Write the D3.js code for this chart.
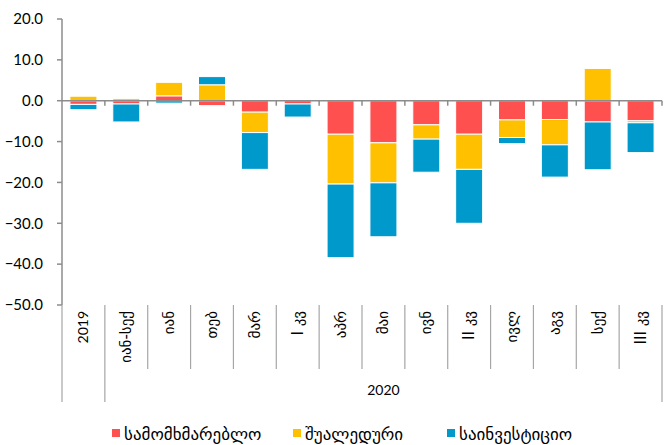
<!DOCTYPE html>
<html>
<head>
<meta charset="utf-8">
<script src="https://cdn.jsdelivr.net/npm/d3@7"></script>
<style>
  body { margin: 0; background: #fff; }
  svg { display: block; }
  .ytick { font-family: Lato, "DejaVu Sans", sans-serif; font-size: 15px; fill: #000; }
  .cat { font-family: "DejaVu Sans", sans-serif; font-size: 15px; fill: #000; }
  .year { font-family: Lato, "DejaVu Sans", sans-serif; font-size: 14px; fill: #000; }
  .legend { font-family: "DejaVu Sans", sans-serif; font-size: 17px; fill: #000; }
</style>
</head>
<body>
<div id="chart"></div>
<script>
// categories (first is 2019, the rest belong to 2020)
var categories = ["2019", "იან-სექ", "იან", "თებ", "მარ", "I კვ", "აპრ", "მაი", "ივნ", "II კვ", "ივლ", "აგვ", "სექ", "III კვ"];
var groupYears = ["2019", "2020"];

// series values
var seriesNames = ["სამომხმარებლო", "შუალედური", "საინვესტიციო"];
var consumer     = [-0.9, -0.8, 1.2, -1.2, -2.8, -0.8, -8.2, -10.3, -5.9, -8.2, -4.7, -4.6, -5.2, -4.9];
var intermediate = [1.1, 0.5, 3.3, 3.9, -5.0, 0.0, -12.2, -9.8, -3.5, -8.6, -4.3, -6.2, 7.9, -0.5];
var investment   = [-1.3, -4.4, -0.6, 2.0, -9.0, -3.2, -18.0, -13.2, -8.1, -13.2, -1.5, -7.9, -11.7, -7.3];

var yTicks = [20, 10, 0, -10, -20, -30, -40, -50];
var colors = ["#FF5050", "#FFC000", "#0099CC"];

var svgWidth = 664, svgHeight = 445;
var margin = { top: 19, right: 2, bottom: 140, left: 62 };
var width = svgWidth - margin.left - margin.right;
var height = svgHeight - margin.top - margin.bottom;

var svg = d3.select("#chart").append("svg")
  .attr("width", svgWidth)
  .attr("height", svgHeight);

var g = svg.append("g")
  .attr("transform", `translate(${margin.left}, ${margin.top})`);

// build table for the stack
var table = categories.map(function (c, i) {
  return { cat: c, s0: consumer[i], s1: intermediate[i], s2: investment[i] };
});
var keys = ["s0", "s1", "s2"];
var stacked = d3.stack().keys(keys).offset(d3.stackOffsetDiverging)(table);

var x = d3.scaleBand()
  .domain(categories)
  .range([0, width])
  .paddingInner(0.37)
  .paddingOuter(0.185);

var y = d3.scaleLinear()
  .domain([-50, 20])
  .range([height, 0]);

var step = x.step();
var axisColor = "#8c8c8c";

// y axis
g.append("line")
  .attr("x1", 0).attr("x2", 0)
  .attr("y1", y(20)).attr("y2", y(-50))
  .attr("stroke", axisColor).attr("stroke-width", 1.5);

g.selectAll(".yt").data(yTicks).enter().append("line")
  .attr("x1", -5).attr("x2", 0)
  .attr("y1", d => y(d)).attr("y2", d => y(d))
  .attr("stroke", axisColor).attr("stroke-width", 1.5);

g.selectAll(".ytick").data(yTicks).enter().append("text")
  .attr("class", "ytick")
  .attr("x", -19)
  .attr("y", d => y(d))
  .attr("dy", "0.35em")
  .attr("text-anchor", "end")
  .text(d => d3.format(".1f")(d));

// bars
g.selectAll(".series").data(stacked).enter().append("g")
  .attr("fill", (d, i) => colors[i])
  .selectAll("rect")
  .data(d => d)
  .enter().append("rect")
  .attr("x", d => x(d.data.cat))
  .attr("width", x.bandwidth())
  .attr("y", d => y(Math.max(d[0], d[1])))
  .attr("height", d => Math.abs(y(d[0]) - y(d[1])))
  .attr("stroke", "#fff")
  .attr("stroke-width", 1);

// zero line with ticks
g.append("line")
  .attr("x1", 0).attr("x2", width)
  .attr("y1", y(0)).attr("y2", y(0))
  .attr("stroke", axisColor).attr("stroke-width", 1.5);

g.selectAll(".zt").data(d3.range(1, categories.length + 1)).enter().append("line")
  .attr("x1", d => d * step).attr("x2", d => d * step)
  .attr("y1", y(0)).attr("y2", y(0) + 5)
  .attr("stroke", axisColor).attr("stroke-width", 1.5);

// category separators below the plot
g.selectAll(".sep").data(d3.range(0, categories.length + 1)).enter().append("line")
  .attr("x1", d => d * step).attr("x2", d => d * step)
  .attr("y1", height)
  .attr("y2", d => (d === 0 || d === 1 || d === categories.length) ? height + 97 : height + 64)
  .attr("stroke", "#a6a6a6").attr("stroke-width", 1.2);

// category labels
g.selectAll(".cat").data(categories).enter().append("text")
  .attr("class", "cat")
  .attr("transform", d => `translate(${x(d) + x.bandwidth() / 2 + 5}, ${height + 6}) rotate(-90)`)
  .attr("text-anchor", "end")
  .text((d, i) => i === 0 ? "" : d);

// 2019 label in its own cell (year font)
g.append("text")
  .attr("class", "year")
  .attr("transform", `translate(${x(categories[0]) + x.bandwidth() / 2 + 5}, ${height + 6}) rotate(-90)`)
  .attr("text-anchor", "end")
  .text(groupYears[0]);

// 2020 group label
g.append("text")
  .attr("class", "year")
  .attr("x", (step + width) / 2)
  .attr("y", height + 90)
  .attr("text-anchor", "middle")
  .text(groupYears[1]);

// legend
var legendX = [112, 293, 447];
var legend = svg.selectAll(".leg").data(seriesNames).enter().append("g")
  .attr("transform", (d, i) => `translate(${legendX[i]}, 434)`);

legend.append("rect")
  .attr("x", 0).attr("y", -5)
  .attr("width", 8).attr("height", 8)
  .attr("fill", (d, i) => colors[i]);

legend.append("text")
  .attr("class", "legend")
  .attr("x", 12)
  .attr("y", 0)
  .attr("dy", "0.35em")
  .text(d => d);
</script>
</body>
</html>
